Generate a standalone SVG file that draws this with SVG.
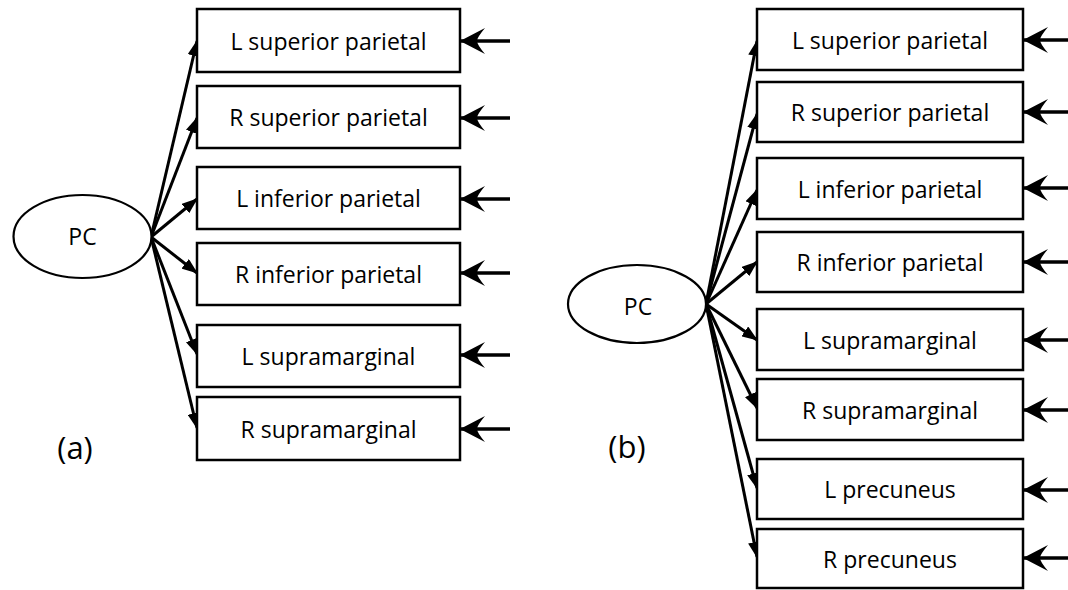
<svg xmlns="http://www.w3.org/2000/svg" width="1068" height="590" viewBox="0 0 1068 590">
<style>
.box{fill:#fff;stroke:#000;stroke-width:2.5}
.ell{fill:#fff;stroke:#000;stroke-width:2.2}
.t{font-family:"Open Sans","Liberation Sans",sans-serif;font-size:23px;fill:#000;text-anchor:middle}
.lab{font-family:"Open Sans","Liberation Sans",sans-serif;font-size:31px;fill:#000;text-anchor:middle}
.load{stroke:#000;stroke-width:3;fill:none;marker-end:url(#tri)}
.err{stroke:#000;stroke-width:3.4;fill:none;marker-end:url(#stealth)}
</style>
<defs>
<marker id="tri" viewBox="0 0 16 12" refX="15" refY="6" markerWidth="16" markerHeight="12" orient="auto" markerUnits="userSpaceOnUse">
<path d="M0,0 L16,6 L0,12 Z" fill="#000"/>
</marker>
<marker id="stealth" viewBox="0 0 25 27" refX="24" refY="13.5" markerWidth="25" markerHeight="27" orient="auto" markerUnits="userSpaceOnUse">
<path d="M25,13.5 L0,0.5 Q8,10 8,13.5 Q8,17 0,26.5 Z" fill="#000"/>
</marker>
</defs>

<g id="connectors">
<line class="load" x1="151" y1="237" x2="197" y2="41"/>
<line class="load" x1="151" y1="237" x2="197" y2="118"/>
<line class="load" x1="151" y1="237" x2="197" y2="199"/>
<line class="load" x1="151" y1="237" x2="197" y2="273"/>
<line class="load" x1="151" y1="237" x2="197" y2="354"/>
<line class="load" x1="151" y1="237" x2="197" y2="428"/>
<line class="err" x1="510" y1="41" x2="461" y2="41"/>
<line class="err" x1="510" y1="118" x2="461" y2="118"/>
<line class="err" x1="510" y1="199" x2="461" y2="199"/>
<line class="err" x1="510" y1="273" x2="461" y2="273"/>
<line class="err" x1="510" y1="355" x2="461" y2="355"/>
<line class="err" x1="510" y1="429" x2="461" y2="429"/>

<line class="load" x1="706" y1="304" x2="757" y2="41"/>
<line class="load" x1="706" y1="304" x2="757" y2="114"/>
<line class="load" x1="706" y1="304" x2="757" y2="190"/>
<line class="load" x1="706" y1="304" x2="757" y2="262"/>
<line class="load" x1="706" y1="304" x2="757" y2="340"/>
<line class="load" x1="706" y1="304" x2="757" y2="408"/>
<line class="load" x1="706" y1="304" x2="757" y2="488"/>
<line class="load" x1="706" y1="304" x2="757" y2="557"/>
<line class="err" x1="1070" y1="40" x2="1024" y2="40"/>
<line class="err" x1="1070" y1="112" x2="1024" y2="112"/>
<line class="err" x1="1070" y1="188" x2="1024" y2="188"/>
<line class="err" x1="1070" y1="262" x2="1024" y2="262"/>
<line class="err" x1="1070" y1="340" x2="1024" y2="340"/>
<line class="err" x1="1070" y1="410" x2="1024" y2="410"/>
<line class="err" x1="1070" y1="490" x2="1024" y2="490"/>
<line class="err" x1="1070" y1="558" x2="1024" y2="558"/>
</g>

<g id="a-pc"><ellipse class="ell" cx="82.5" cy="236.5" rx="69" ry="41.5"/><text class="t" x="82.5" y="245">PC</text></g>
<g id="a-lsp"><rect class="box" x="197" y="9" width="263" height="63"/><text class="t" x="328.5" y="49.5">L superior parietal</text></g>
<g id="a-rsp"><rect class="box" x="197" y="86" width="263" height="62"/><text class="t" x="328.5" y="126">R superior parietal</text></g>
<g id="a-lip"><rect class="box" x="197" y="167" width="263" height="62"/><text class="t" x="328.5" y="207">L inferior parietal</text></g>
<g id="a-rip"><rect class="box" x="197" y="243" width="263" height="62"/><text class="t" x="328.5" y="283">R inferior parietal</text></g>
<g id="a-lsm"><rect class="box" x="197" y="325" width="263" height="62"/><text class="t" x="328.5" y="365">L supramarginal</text></g>
<g id="a-rsm"><rect class="box" x="197" y="397" width="263" height="63"/><text class="t" x="328.5" y="437.5">R supramarginal</text></g>
<g id="label-a"><text class="lab" x="75" y="459">(a)</text></g>

<g id="b-pc"><ellipse class="ell" cx="637" cy="304" rx="69" ry="39"/><text class="t" x="638" y="315">PC</text></g>
<g id="b-lsp"><rect class="box" x="757" y="9" width="266" height="61"/><text class="t" x="890" y="48.5">L superior parietal</text></g>
<g id="b-rsp"><rect class="box" x="757" y="82" width="266" height="60"/><text class="t" x="890" y="121">R superior parietal</text></g>
<g id="b-lip"><rect class="box" x="757" y="158" width="266" height="61"/><text class="t" x="890" y="197.5">L inferior parietal</text></g>
<g id="b-rip"><rect class="box" x="757" y="232" width="266" height="60"/><text class="t" x="890" y="271">R inferior parietal</text></g>
<g id="b-lsm"><rect class="box" x="757" y="309" width="266" height="61"/><text class="t" x="890" y="348.5">L supramarginal</text></g>
<g id="b-rsm"><rect class="box" x="757" y="379" width="266" height="61"/><text class="t" x="890" y="418.5">R supramarginal</text></g>
<g id="b-lpc"><rect class="box" x="757" y="459" width="266" height="60"/><text class="t" x="890" y="498">L precuneus</text></g>
<g id="b-rpc"><rect class="box" x="757" y="529" width="266" height="59"/><text class="t" x="890" y="567.5">R precuneus</text></g>
<g id="label-b"><text class="lab" x="627" y="458">(b)</text></g>
</svg>
